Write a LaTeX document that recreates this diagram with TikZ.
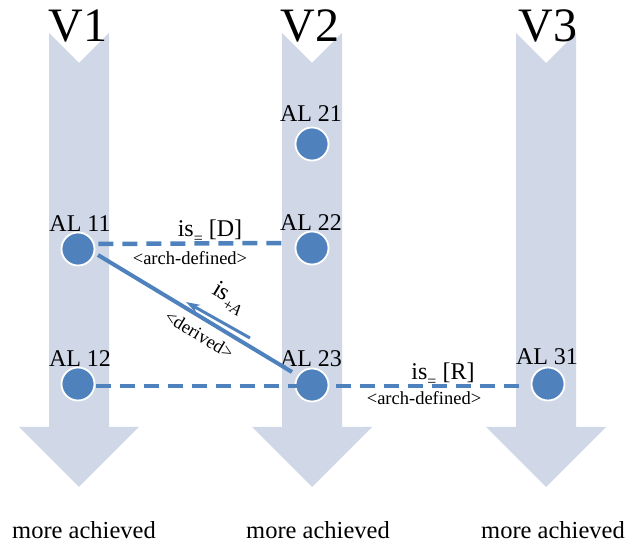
\documentclass[tikz,border=0pt]{standalone}
\usepackage{fontspec}
\setmainfont{Liberation Serif}
\usetikzlibrary{arrows.meta}
\definecolor{colfill}{HTML}{D0D8E8}
\definecolor{dotblue}{HTML}{4F81BD}
\newcommand{\lowsub}[1]{\raisebox{-0.28em}{\fontsize{16}{18}\selectfont #1}}
\tikzset{
  colarrow/.style={fill=colfill, draw=none},
  dot/.style={circle, fill=dotblue, draw=white, line width=1.8pt, minimum size=33pt, inner sep=0pt},
  allabel/.style={anchor=base, inner sep=0pt, font=\fontsize{24}{28}\selectfont},
  vlabel/.style={anchor=base, inner sep=0pt, font=\fontsize{48}{52}\selectfont},
  bottomlabel/.style={anchor=base, inner sep=0pt, font=\fontsize{24.5}{28}\selectfont},
  rellabel/.style={anchor=base, inner sep=0pt, font=\fontsize{24}{28}\selectfont},
  smalllabel/.style={anchor=base, inner sep=0pt, font=\fontsize{18.5}{22}\selectfont},
  dashline/.style={draw=dotblue, line width=4.5pt, dash pattern=on 15pt off 9pt},
  solidline/.style={draw=dotblue, line width=4pt},
}
\newcommand{\colarrowat}[1]{%
  \fill[colarrow] (#1-30,33) -- (#1,63) -- (#1+30,33) -- (#1+30,427) -- (#1+60,427)
    -- (#1,487) -- (#1-60,427) -- (#1-30,427) -- cycle;}
\begin{document}
\begin{tikzpicture}[x=1pt,y=-1pt]
\useasboundingbox (0,0) rectangle (630,545);
% column arrows
\colarrowat{79}
\colarrowat{312}
\colarrowat{546}
% version labels
\node[vlabel] (v1) at (78,42) {V1};
\node[vlabel] (v2) at (310,42) {V2};
\node[vlabel] (v3) at (548,42) {V3};
% bottom labels
\node[bottomlabel] (b1) at (84,539) {more achieved};
\node[bottomlabel] (b2) at (318,539) {more achieved};
\node[bottomlabel] (b3) at (553,539) {more achieved};
% dots
\node[dot] (al11) at (78,249) {};
\node[dot] (al12) at (78,384) {};
\node[dot] (al21) at (312,144) {};
\node[dot] (al22) at (312,248) {};
\node[dot] (al23) at (312,385) {};
\node[dot] (al31) at (548,384) {};
% dot labels
\node[allabel] (l11) at (80,232) {AL 11};
\node[allabel] (l12) at (80,367) {AL 12};
\node[allabel] (l21) at (311,122) {AL 21};
\node[allabel] (l22) at (311,231) {AL 22};
\node[allabel] (l23) at (311,367) {AL 23};
\node[allabel] (l31) at (547,365) {AL 31};
% relations
\draw[dashline] ([yshift=5pt,xshift=3pt]al11.east) -- ([yshift=5pt,xshift=-8pt]al22.west);
\draw[dashline] ([yshift=-2pt,xshift=1pt]al12.east) -- ([yshift=-2pt,xshift=-3pt]al31.west);
\coordinate (sstart) at (98,255);
\coordinate (send) at (292,372);
\draw[solidline] (sstart) -- (send);
\coordinate (atail) at (250,338);
\coordinate (ahead) at (186,302);
\draw[draw=dotblue, line width=3pt, -{Stealth[length=14pt,width=9pt]}] (atail) -- (ahead);
% relation labels
\node[rellabel] (isd) at (210,237) {is\lowsub{=} [D]};
\node[smalllabel] (ad1) at (190,265) {<arch-defined>};
\node[rellabel] (isr) at (443,380) {is\lowsub{=} [R]};
\node[smalllabel] (ad2) at (424,405) {<arch-defined>};
\node[rellabel, rotate=-31] (isa) at (226,302) {is\lowsub{+\textit{A}}};
\node[smalllabel, rotate=-31] (der) at (196,340) {<derived>};
\end{tikzpicture}
\end{document}
